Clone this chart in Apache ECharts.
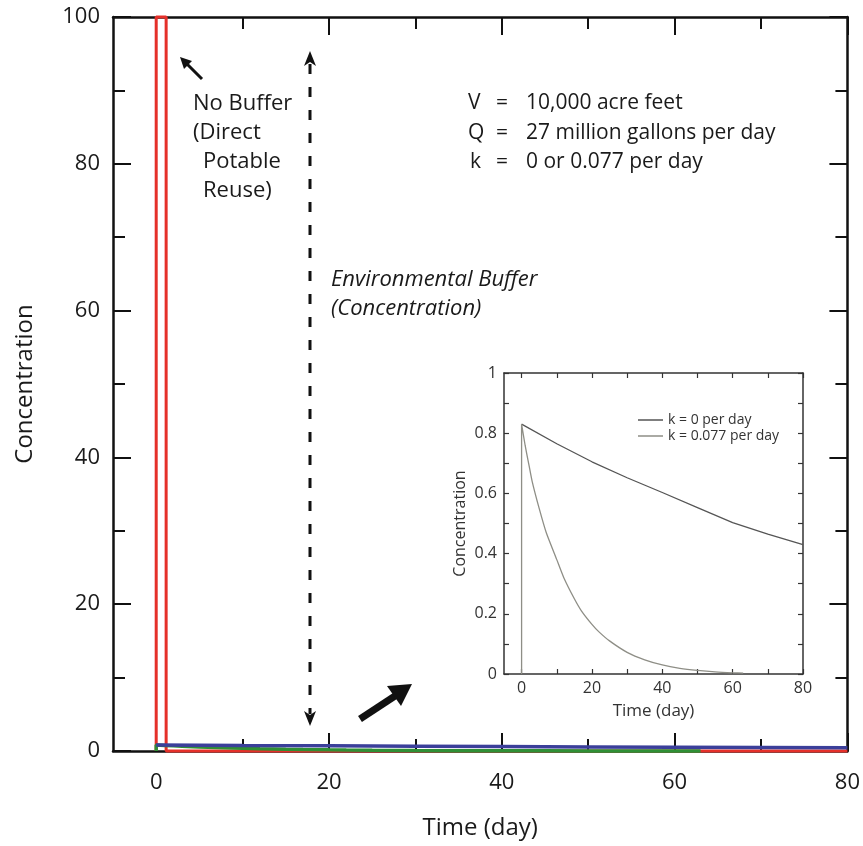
<!DOCTYPE html>
<html>
<head>
<meta charset="utf-8">
<script src="https://cdn.jsdelivr.net/npm/echarts@6/dist/echarts.min.js"></script>
<style>
  html, body { margin: 0; padding: 0; background: #fff; }
  #chart { width: 863px; height: 846px; }
</style>
</head>
<body>
<div id="chart"></div>
<script>
// pulse with no buffer (direct potable reuse)
const pulseTime = [0, 0, 1.15, 1.15, 80];
const pulseConc = [0, 100, 100, 0, 0];

// buffered concentration, k = 0 per day
const k0Time = [0, 10, 20, 30, 40, 50, 60, 70, 80];
const k0Conc = [0.83, 0.765, 0.705, 0.652, 0.603, 0.553, 0.503, 0.465, 0.43];

// buffered concentration, k = 0.077 per day (starts with the jump at t = 0)
const k077Time = [0, 0, 1, 2, 3, 5, 7, 10, 12, 15, 17, 20, 22, 25, 30, 35, 40, 45, 50, 55, 60, 63];
const k077Conc = [0, 0.83, 0.76, 0.70, 0.64, 0.55, 0.47, 0.38, 0.32, 0.25, 0.21, 0.165, 0.14, 0.11, 0.072, 0.047, 0.03, 0.019, 0.012, 0.007, 0.004, 0.003];

// tick positions
const xMajorTicks = [0, 20, 40, 60, 80];
const xMinorTicks = [10, 30, 50, 70];
const insetTicks = [0, 10, 20, 30, 40, 50, 60, 70, 80];

const FONT = "'Open Sans', 'Noto Sans', sans-serif";
const pairs = (xs, ys) => xs.map((x, i) => [x, ys[i]]);

const chart = echarts.init(document.getElementById('chart'));

const mainLine = { onZero: false, lineStyle: { color: '#111', width: 2.5 } };
const insetLine = { onZero: false, lineStyle: { color: '#333', width: 1.5 } };

function xAx(grid, pos, ticks, len, opts) {
  return Object.assign({
    type: 'value', gridIndex: grid, position: pos, min: -5, max: 80,
    splitLine: { show: false },
    axisLine: { onZero: false },
    axisTick: { inside: true, length: len, customValues: ticks, lineStyle: { color: '#111', width: 2 } },
    axisLabel: { show: false }
  }, opts);
}

function yAx(grid, pos, max, step, len, color, opts) {
  return Object.assign({
    type: 'value', gridIndex: grid, position: pos, min: 0, max: max, interval: step,
    splitLine: { show: false },
    axisLine: Object.assign({ show: true }, grid === 0 ? mainLine : insetLine),
    axisTick: { inside: true, length: len, lineStyle: { color: color, width: grid === 0 ? 2 : 1.2 } },
    minorTick: { show: true, splitNumber: 2, length: grid === 0 ? 12 : 5, lineStyle: { color: color, width: grid === 0 ? 2 : 1.2 } },
    axisLabel: { show: false }
  }, opts);
}

const option = {
  backgroundColor: '#fff',
  animation: false,
  grid: [
    { left: 113, right: 15, top: 17, bottom: 95 },
    { left: 504, right: 60, top: 373, bottom: 172 }
  ],
  xAxis: [
    xAx(0, 'bottom', xMajorTicks, 18, {
      axisLine: mainLine,
      axisLabel: { show: true, customValues: xMajorTicks, fontSize: 22, color: '#1a1a1a', margin: 21, fontFamily: FONT },
      name: 'Time (day)', nameLocation: 'middle', nameGap: 65,
      nameTextStyle: { fontSize: 24, color: '#1a1a1a', fontFamily: FONT }
    }),
    xAx(0, 'bottom', xMinorTicks, 12, { axisLine: { show: false, onZero: false } }),
    xAx(0, 'top', xMajorTicks, 18, { axisLine: mainLine }),
    xAx(0, 'top', xMinorTicks, 12, { axisLine: { show: false, onZero: false } }),
    {
      type: 'value', gridIndex: 1, position: 'bottom', min: -5, max: 80,
      splitLine: { show: false },
      axisLine: insetLine,
      axisTick: { inside: true, length: 5, customValues: insetTicks, lineStyle: { color: '#333', width: 1.2 } },
      axisLabel: { customValues: xMajorTicks, fontSize: 16, color: '#333', margin: 6, fontFamily: FONT },
      name: 'Time (day)', nameLocation: 'middle', nameGap: 29,
      nameTextStyle: { fontSize: 17, color: '#333', fontFamily: FONT }
    },
    {
      type: 'value', gridIndex: 1, position: 'top', min: -5, max: 80,
      splitLine: { show: false },
      axisLine: insetLine,
      axisTick: { inside: true, length: 5, customValues: insetTicks, lineStyle: { color: '#333', width: 1.2 } },
      axisLabel: { show: false }
    }
  ],
  yAxis: [
    yAx(0, 'left', 100, 20, 18, '#111', {
      axisLabel: { fontSize: 22, color: '#1a1a1a', margin: 13, fontFamily: FONT },
      name: 'Concentration', nameLocation: 'middle', nameGap: 76,
      nameTextStyle: { fontSize: 24, color: '#1a1a1a', fontFamily: FONT }
    }),
    yAx(0, 'right', 100, 20, 18, '#111', {}),
    yAx(1, 'left', 1, 0.2, 5, '#333', {
      axisLabel: { fontSize: 16, color: '#333', margin: 7, fontFamily: FONT },
      name: 'Concentration', nameLocation: 'middle', nameGap: 36,
      nameTextStyle: { fontSize: 16, color: '#333', fontFamily: FONT }
    }),
    yAx(1, 'right', 1, 0.2, 5, '#333', {})
  ],
  legend: {
    data: ['k = 0 per day', 'k = 0.077 per day'],
    orient: 'vertical', left: 633, top: 408,
    icon: 'rect', itemWidth: 25, itemHeight: 1.5, itemGap: 2,
    textStyle: { fontSize: 14, color: '#333', fontFamily: FONT }
  },
  series: [
    {
      name: 'No Buffer', type: 'line', xAxisIndex: 0, yAxisIndex: 0,
      data: pairs(pulseTime, pulseConc), symbol: 'none', clip: false,
      lineStyle: { color: '#e5302a', width: 3 }, z: 2
    },
    {
      name: 'main k0.077', type: 'line', xAxisIndex: 0, yAxisIndex: 0,
      data: pairs(k077Time, k077Conc), symbol: 'none', clip: false,
      lineStyle: { color: '#2f8f35', width: 3.5 }, z: 3
    },
    {
      name: 'main k0', type: 'line', xAxisIndex: 0, yAxisIndex: 0,
      data: pairs(k0Time, k0Conc), symbol: 'none', clip: false,
      lineStyle: { color: '#3b3f9a', width: 3.5 }, z: 4
    },
    {
      name: 'k = 0 per day', type: 'line', xAxisIndex: 4, yAxisIndex: 2,
      data: pairs(k0Time, k0Conc), symbol: 'none',
      lineStyle: { color: '#555', width: 1.3 }, itemStyle: { color: '#555' }
    },
    {
      name: 'k = 0.077 per day', type: 'line', xAxisIndex: 4, yAxisIndex: 2,
      data: pairs(k077Time, k077Conc), symbol: 'none', smooth: 0.2,
      lineStyle: { color: '#8e8e86', width: 1.3 }, itemStyle: { color: '#8e8e86' }
    }
  ],
  graphic: [
    // no-buffer arrow
    { type: 'line', shape: { x1: 202, y1: 79, x2: 187, y2: 64 }, style: { stroke: '#111', lineWidth: 3 } },
    { type: 'polygon', shape: { points: [[180, 57], [192, 61], [184, 69]] }, style: { fill: '#111' } },
    // dashed double arrow
    { type: 'line', shape: { x1: 310, y1: 64, x2: 310, y2: 714 }, style: { stroke: '#111', lineWidth: 3, lineDash: [10, 13] } },
    { type: 'polygon', shape: { points: [[310, 51], [316, 66], [310, 62], [304, 66]] }, style: { fill: '#111' } },
    { type: 'polygon', shape: { points: [[310, 726], [316, 711], [310, 715], [304, 711]] }, style: { fill: '#111' } },
    // arrow toward inset
    { type: 'line', shape: { x1: 360, y1: 719, x2: 395, y2: 696 }, style: { stroke: '#111', lineWidth: 7 } },
    { type: 'polygon', shape: { points: [[412, 684], [401, 706], [387, 686]] }, style: { fill: '#111' } },
    // texts
    { type: 'text', left: 193, top: 93, style: { text: 'No Buffer', font: '22px ' + FONT, fill: '#1a1a1a' } },
    { type: 'text', left: 193, top: 122, style: { text: '(Direct', font: '22px ' + FONT, fill: '#1a1a1a' } },
    { type: 'text', left: 203, top: 151, style: { text: 'Potable', font: '22px ' + FONT, fill: '#1a1a1a' } },
    { type: 'text', left: 203, top: 180, style: { text: 'Reuse)', font: '22px ' + FONT, fill: '#1a1a1a' } },
    { type: 'text', left: 331, top: 269, style: { text: 'Environmental Buffer', font: 'italic 22px ' + FONT, fill: '#1a1a1a' } },
    { type: 'text', left: 331, top: 298, style: { text: '(Concentration)', font: 'italic 22px ' + FONT, fill: '#1a1a1a' } },
    { type: 'text', left: 468, top: 93, style: { text: 'V', font: '21px ' + FONT, fill: '#1a1a1a' } },
    { type: 'text', left: 468, top: 123, style: { text: 'Q', font: '21px ' + FONT, fill: '#1a1a1a' } },
    { type: 'text', left: 470, top: 152, style: { text: 'k', font: '21px ' + FONT, fill: '#1a1a1a' } },
    { type: 'text', left: 496, top: 93, style: { text: '=', font: '21px ' + FONT, fill: '#1a1a1a' } },
    { type: 'text', left: 496, top: 123, style: { text: '=', font: '21px ' + FONT, fill: '#1a1a1a' } },
    { type: 'text', left: 496, top: 152, style: { text: '=', font: '21px ' + FONT, fill: '#1a1a1a' } },
    { type: 'text', left: 526, top: 93, style: { text: '10,000 acre feet', font: '21px ' + FONT, fill: '#1a1a1a' } },
    { type: 'text', left: 526, top: 123, style: { text: '27 million gallons per day', font: '21px ' + FONT, fill: '#1a1a1a' } },
    { type: 'text', left: 526, top: 152, style: { text: '0 or 0.077 per day', font: '21px ' + FONT, fill: '#1a1a1a' } }
  ]
};

chart.setOption(option);
</script>
</body>
</html>
